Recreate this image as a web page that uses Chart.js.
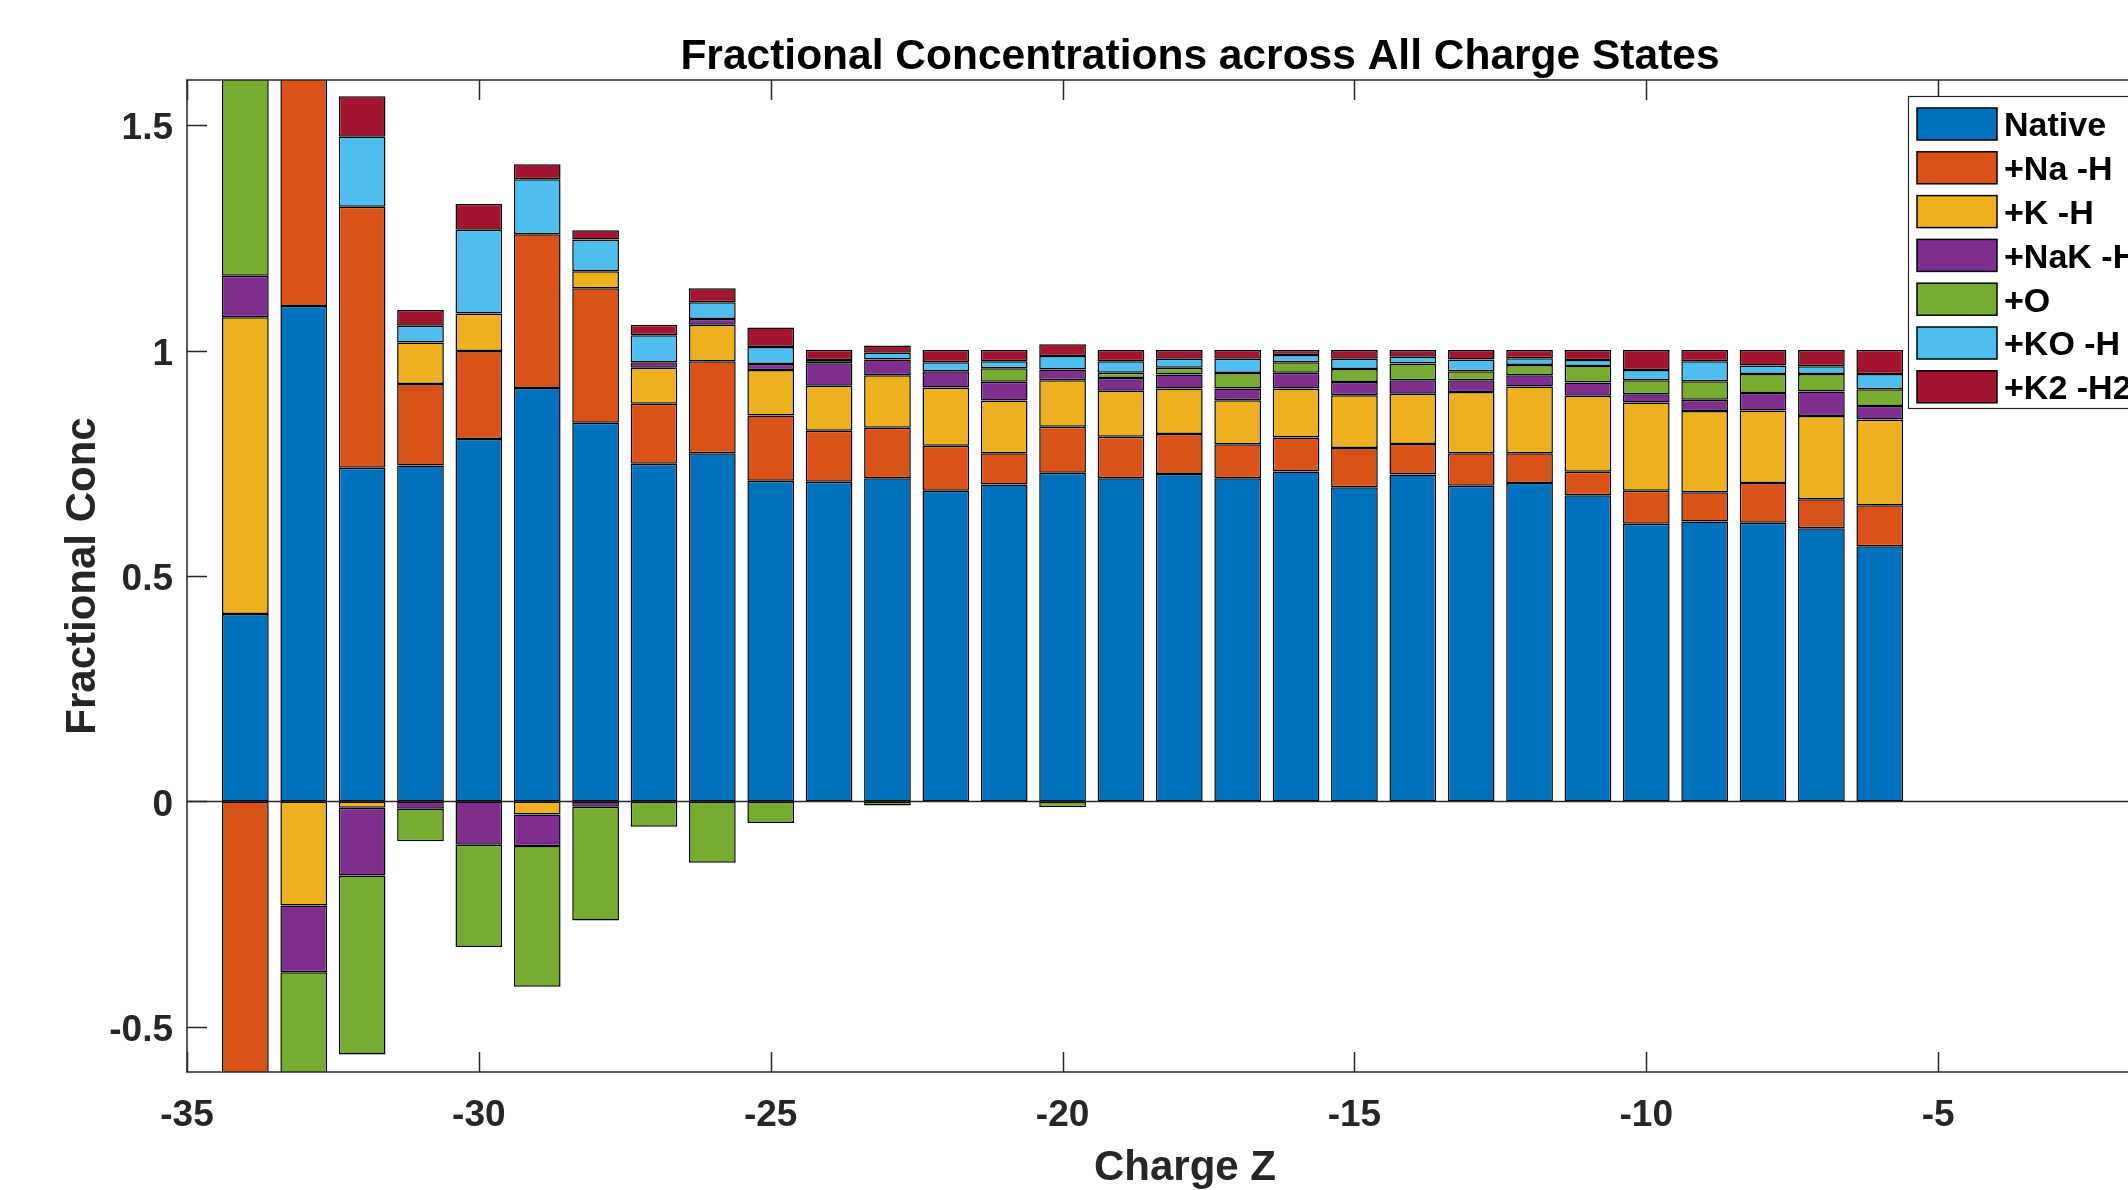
<!DOCTYPE html>
<html><head><meta charset="utf-8">
<script src="https://cdn.jsdelivr.net/npm/chart.js@4.4.1/dist/chart.umd.min.js"></script>
<style>
html,body{margin:0;padding:0;overflow:hidden;background:#fff;width:2128px;height:1190px;}
#wrap{position:absolute;left:0;top:0;width:2260px;height:1190px;}
canvas{display:block;}
</style></head><body>
<div id="wrap"><canvas id="c" width="2260" height="1190"></canvas></div>
<script>
// ---- data ----
const charges = [-34,-33,-32,-31,-30,-29,-28,-27,-26,-25,-24,-23,-22,-21,-20,-19,-18,-17,-16,-15,-14,-13,-12,-11,-10,-9,-8,-7,-6];
const nativeConc = [0.416,1.099,0.740,0.745,0.804,0.917,0.840,0.749,0.772,0.711,0.709,0.717,0.689,0.703,0.729,0.717,0.726,0.717,0.732,0.697,0.725,0.700,0.706,0.679,0.616,0.621,0.618,0.606,0.566];
const naConc = [-0.750,0.580,0.579,0.181,0.195,0.341,0.298,0.133,0.204,0.145,0.113,0.112,0.100,0.069,0.102,0.092,0.089,0.075,0.075,0.087,0.068,0.072,0.066,0.052,0.073,0.065,0.088,0.064,0.091];
const kConc = [0.658,-0.231,-0.014,0.092,0.083,-0.029,0.038,0.080,0.081,0.101,0.100,0.116,0.129,0.117,0.103,0.102,0.101,0.098,0.109,0.117,0.111,0.136,0.148,0.169,0.196,0.180,0.161,0.185,0.190];
const nakConc = [0.092,-0.148,-0.150,-0.016,-0.096,-0.070,-0.012,0.012,0.013,0.013,0.050,0.035,0.036,0.042,0.024,0.028,0.031,0.026,0.035,0.029,0.030,0.026,0.025,0.029,0.018,0.025,0.039,0.054,0.030];
const oConc = [0.584,-0.300,-0.397,-0.072,-0.227,-0.312,-0.252,-0.056,-0.136,-0.048,0.007,-0.009,0,0.030,-0.013,0.012,0.015,0.034,0.023,0.029,0.037,0.020,0.023,0.037,0.031,0.041,0.042,0.039,0.037];
const koConc = [0,0,0.155,0.037,0.186,0.122,0.070,0.060,0.037,0.038,0,0.015,0.020,0.015,0.030,0.025,0.020,0.032,0.016,0.023,0.015,0.026,0.015,0.013,0.023,0.044,0.019,0.017,0.034];
const k2Conc = [0,0,0.090,0.035,0.057,0.033,0.021,0.023,0.031,0.043,0.023,0.016,0.027,0.025,0.026,0.025,0.019,0.019,0.011,0.019,0.015,0.021,0.018,0.022,0.044,0.025,0.034,0.036,0.053];
const seriesNames = ['Native','+Na -H','+K -H','+NaK -H2','+O','+KO -H','+K2 -H2'];
const seriesValues = [nativeConc,naConc,kConc,nakConc,oConc,koConc,k2Conc];
const seriesColors = ['#0072BD','#D95319','#EDB120','#7E2F8E','#77AC30','#4DBEEE','#A2142F'];
const xTicks = [-35,-30,-25,-20,-15,-10,-5];
const yTicks = [-0.5,0,0.5,1,1.5];
const titleText = 'Fractional Concentrations across All Charge States';
const xLabel = 'Charge Z';
const yLabel = 'Fractional Conc';

const FONT = '"Liberation Sans", Arial, Helvetica, sans-serif';
const AX = '#262626';

const datasets = seriesValues.map((vals, i) => ({
  label: seriesNames[i],
  data: charges.map((c, j) => ({x: c, y: vals[j]})),
  backgroundColor: seriesColors[i],
  borderColor: '#000',
  borderWidth: 1.5,
  borderSkipped: false,
  barPercentage: 0.8,
  categoryPercentage: 1.0,
  clip: 0
}));

const decor = {
  id: 'decor',
  afterDatasetsDraw(chart) {
    const {ctx, chartArea: a, scales: {y}} = chart;
    ctx.save();
    ctx.strokeStyle = AX; ctx.lineWidth = 1.5;
    const y0 = Math.round(y.getPixelForValue(0)) + 0.5;
    ctx.beginPath(); ctx.moveTo(a.left, y0); ctx.lineTo(a.right, y0); ctx.stroke();
    ctx.restore();
  },
  afterDraw(chart) {
    const {ctx, chartArea: a, scales: {x, y}} = chart;
    ctx.save();
    // axes box
    ctx.strokeStyle = AX; ctx.lineWidth = 1.5;
    ctx.strokeRect(a.left, a.top, a.right - a.left, a.bottom - a.top);
    // inward ticks
    const TL = 20;
    ctx.beginPath();
    xTicks.forEach(v => {
      const px = Math.round(x.getPixelForValue(v)) + 0.5;
      ctx.moveTo(px, a.bottom); ctx.lineTo(px, a.bottom - TL);
      ctx.moveTo(px, a.top); ctx.lineTo(px, a.top + TL);
    });
    yTicks.forEach(v => {
      const py = Math.round(y.getPixelForValue(v)) + 0.5;
      ctx.moveTo(a.left, py); ctx.lineTo(a.left + TL, py);
      ctx.moveTo(a.right, py); ctx.lineTo(a.right - TL, py);
    });
    ctx.stroke();
    // title & axis labels
    ctx.fillStyle = '#000';
    ctx.textAlign = 'center'; ctx.textBaseline = 'middle';
    ctx.font = 'bold 42.5px ' + FONT;
    ctx.fillText(titleText, 1200, 57);
    ctx.fillStyle = AX;
    ctx.font = 'bold 42px ' + FONT;
    ctx.fillText(xLabel, 1185, 1168);
    ctx.save();
    ctx.translate(83, 576); ctx.rotate(-Math.PI / 2);
    ctx.fillText(yLabel, 0, 0);
    ctx.restore();
    // legend
    const lx = 1908, ly = 96, lw = 330, lh = 312;
    ctx.fillStyle = '#fff';
    ctx.fillRect(lx, ly, lw, lh);
    ctx.strokeStyle = AX; ctx.lineWidth = 1.2;
    ctx.strokeRect(lx + 0.5, ly + 0.5, lw, lh);
    ctx.font = 'bold 34px ' + FONT;
    ctx.textAlign = 'left'; ctx.textBaseline = 'middle';
    seriesNames.forEach((n, i) => {
      const sy = 108 + i * 43.8;
      ctx.fillStyle = seriesColors[i];
      ctx.fillRect(1917, sy, 80, 32);
      ctx.strokeStyle = '#000'; ctx.lineWidth = 1.5;
      ctx.strokeRect(1917, sy, 80, 32);
      ctx.fillStyle = '#000';
      ctx.fillText(n, 2004, sy + 19);
    });
    ctx.restore();
  }
};

new Chart(document.getElementById('c'), {
  type: 'bar',
  data: {datasets},
  options: {
    responsive: false,
    animation: false,
    devicePixelRatio: 1,
    layout: {padding: {left: 0, top: 80, right: 30, bottom: 0}},
    plugins: {legend: {display: false}, title: {display: false}, tooltip: {enabled: false}},
    scales: {
      x: {
        type: 'linear', min: -35, max: 0, stacked: true, offset: false,
        grid: {display: false, drawTicks: false}, border: {display: false},
        ticks: {font: {family: FONT, size: 37, weight: 'bold'}, color: AX, padding: 22, autoSkip: false, maxRotation: 0, callback: v => String(v)},
        afterBuildTicks: s => { s.ticks = xTicks.map(v => ({value: v})); },
        afterFit: s => { s.height = 118; }
      },
      y: {
        type: 'linear', min: -0.6, max: 1.6, stacked: true,
        grid: {display: false, drawTicks: false}, border: {display: false},
        ticks: {font: {family: FONT, size: 37, weight: 'bold'}, color: AX, padding: 14, labelOffset: 4, autoSkip: false, callback: v => String(v)},
        afterBuildTicks: s => { s.ticks = yTicks.map(v => ({value: v})); },
        afterFit: s => { s.width = 187; }
      }
    }
  },
  plugins: [decor]
});
</script>
</body></html>
